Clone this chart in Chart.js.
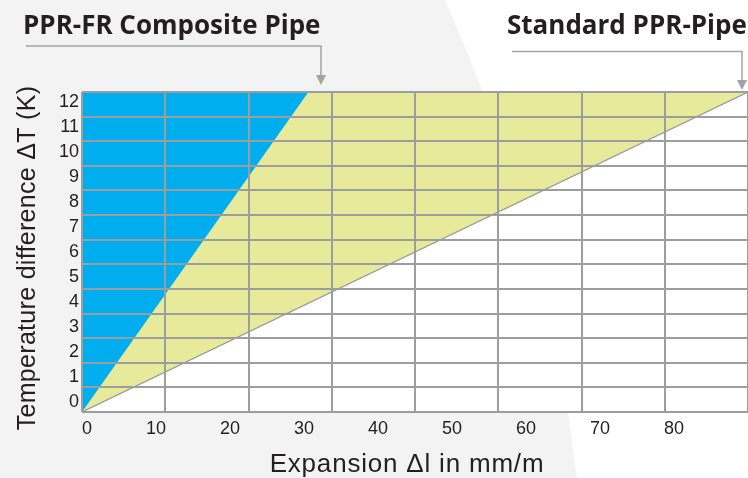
<!DOCTYPE html>
<html>
<head>
<meta charset="utf-8">
<script src="https://cdn.jsdelivr.net/npm/chart.js@4.4.1/dist/chart.umd.min.js"></script>
<style>
  html, body { margin: 0; padding: 0; }
  body { width: 748px; height: 478px; background: #f3f3f3; position: relative; overflow: hidden; }
  #sheen { position: absolute; inset: 0; background: #fff;
    clip-path: polygon(445px 0, 464px 45px, 482px 90px, 514px 200px, 541px 300px, 568px 412px, 577px 478px, 748px 478px, 748px 0); }
  #wrap { position: absolute; left: 0; top: 0; width: 748px; height: 478px; }
</style>
</head>
<body>
<div id="sheen"></div>
<div id="wrap"><canvas id="expansionChart" width="748" height="478"></canvas></div>
<script>
/* ===== DATA ===== */
const xTickLabels = [0, 10, 20, 30, 40, 50, 60, 70, 80];
const yTickLabels = [0, 1, 2, 3, 4, 5, 6, 7, 8, 9, 10, 11, 12];
const standardX = [0, 90];
const standardY = [-0.4, 12.4];
const compositeX = [0, 30.6];
const compositeY = [-0.4, 12.4];

/* ===== STYLE ===== */
const ink = "#231f20";
const gridColor = "#9d9d9d";
const arrowColor = "#a3a3a3";
const sansFont = "'Liberation Sans', Arial, sans-serif";
const tickFont = { family: sansFont, size: 18 };

const toPoints = (xs, ys) => xs.map((x, i) => ({ x, y: ys[i] }));

/* white plot background */
const plotBackground = {
  id: "plotBackground",
  beforeDraw(chart) {
    const { ctx, chartArea: a } = chart;
    ctx.save();
    ctx.fillStyle = "#fff";
    ctx.fillRect(a.left, a.top, a.right - a.left, a.bottom - a.top);
    ctx.restore();
  }
};

/* labels with bent arrows above the plot */
function drawCallout(ctx, text, textX, lineY, fromX, toX, tipY) {
  ctx.fillStyle = ink;
  ctx.fillText(text, textX, 34);
  ctx.strokeStyle = arrowColor;
  ctx.lineWidth = 1.5;
  ctx.beginPath();
  ctx.moveTo(fromX, lineY);
  ctx.lineTo(toX, lineY);
  ctx.lineTo(toX, tipY - 9);
  ctx.stroke();
  ctx.fillStyle = arrowColor;
  ctx.beginPath();
  ctx.moveTo(toX - 5, tipY - 10);
  ctx.lineTo(toX + 5, tipY - 10);
  ctx.lineTo(toX, tipY);
  ctx.closePath();
  ctx.fill();
}

const annotations = {
  id: "annotations",
  afterDraw(chart) {
    const ctx = chart.ctx;
    ctx.save();
    ctx.font = "bold 26px 'Open Sans'";
    ctx.textBaseline = "alphabetic";
    drawCallout(ctx, "PPR-FR Composite Pipe", 23, 46, 26, 321, 85);
    drawCallout(ctx, "Standard PPR-Pipe", 507, 51.5, 512, 742, 90);

    // axis titles
    ctx.fillStyle = ink;
    ctx.textAlign = "center";
    ctx.font = "26px " + sansFont;
    ctx.letterSpacing = "0.8px";
    ctx.fillText("Expansion \u0394l in mm/m", 407, 471.5);
    ctx.translate(35, 258);
    ctx.rotate(-Math.PI / 2);
    ctx.font = "25px " + sansFont;
    ctx.letterSpacing = "0.3px";
    ctx.fillText("Temperature difference \u0394T (K)", 0, 0);
    ctx.restore();
  }
};

/* ===== CHART ===== */
new Chart(document.getElementById("expansionChart"), {
  type: "line",
  data: {
    datasets: [
      {
        label: "PPR-FR Composite Pipe",
        data: toPoints(compositeX, compositeY),
        borderWidth: 0,
        pointRadius: 0,
        backgroundColor: "#00aeef",
        fill: "end"
      },
      {
        label: "Standard PPR-Pipe",
        data: toPoints(standardX, standardY),
        borderColor: "#9a9a9a",
        borderWidth: 1.2,
        pointRadius: 0,
        backgroundColor: "#e7e99b",
        fill: "end"
      }
    ]
  },
  options: {
    responsive: false,
    animation: false,
    layout: { padding: { top: 92, left: 0, right: 0, bottom: 0 } },
    plugins: { legend: { display: false }, tooltip: { enabled: false } },
    scales: {
      x: {
        type: "linear", min: 0, max: 90, position: "bottom",
        afterBuildTicks: s => { s.ticks = xTickLabels.concat([90]).map(v => ({ value: v })); },
        afterFit: s => { s.height = 66; },
        grid: { display: false, drawTicks: false },
        border: { display: false },
        ticks: {
          font: { family: sansFont, size: 18, lineHeight: 1.87 },
          color: ink, padding: 0, align: "inner",
          maxRotation: 0, autoSkip: false,
          callback: v => (v === 90 ? "" : v)
        }
      },
      xg: {
        type: "linear", min: 0, max: 8, position: "bottom",
        afterFit: s => { s.height = 0; },
        ticks: { display: false, stepSize: 1 },
        grid: { color: gridColor, lineWidth: 2, z: 1, drawTicks: false },
        border: { display: false }
      },
      y: {
        type: "linear", min: -0.4, max: 12.4, position: "left",
        afterBuildTicks: s => { s.ticks = yTickLabels.map(v => ({ value: v })); },
        afterFit: s => { s.width = 82; },
        grid: { display: false, drawTicks: false },
        border: { display: false },
        ticks: { font: tickFont, color: ink, padding: 3 }
      },
      yg: {
        type: "linear", min: 0, max: 13, position: "left",
        afterFit: s => { s.width = 0; },
        ticks: { display: false, stepSize: 1 },
        grid: { color: gridColor, lineWidth: 2, z: 1, drawTicks: false },
        border: { display: false }
      }
    }
  },
  plugins: [plotBackground, annotations]
});
</script>
</body>
</html>
